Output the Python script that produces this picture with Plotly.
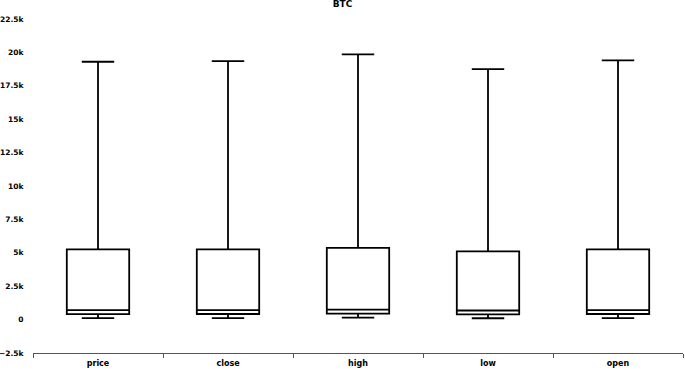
import plotly.graph_objects as go

categories = ["price", "close", "high", "low", "open"]
lower_fence = [110, 110, 150, 100, 110]
q1_vals = [410, 420, 450, 390, 420]
median_vals = [710, 710, 740, 680, 710]
q3_vals = [5260, 5260, 5370, 5100, 5260]
upper_fence = [19300, 19350, 19850, 18750, 19400]
y_tick_vals = [-2500, 0, 2500, 5000, 7500, 10000, 12500, 15000, 17500, 20000, 22500]
y_tick_text = ["−2.5k", "0", "2.5k", "5k", "7.5k", "10k", "12.5k", "15k", "17.5k", "20k", "22.5k"]

fig = go.Figure()
fig.add_trace(go.Box(
    x=categories,
    q1=q1_vals, median=median_vals, q3=q3_vals,
    lowerfence=lower_fence, upperfence=upper_fence,
    fillcolor="white",
    line=dict(color="black", width=1.8),
    width=0.48,
    whiskerwidth=0.52,
    boxpoints=False,
    hoverinfo="skip",
))

font = dict(family="DejaVu Sans", size=8, color="black", weight="bold")
yfont = dict(family="DejaVu Sans", size=7.5, color="black", weight="bold")
fig.update_layout(
    width=685, height=369,
    margin=dict(l=33, r=2, t=19, b=16),
    paper_bgcolor="white", plot_bgcolor="white",
    showlegend=False,
    title=dict(text="BTC", x=0.5, xanchor="center", y=0.997, yanchor="top",
               font=dict(family="DejaVu Sans", size=9, color="black", weight="bold")),
    font=font,
)
fig.update_xaxes(
    type="category", showgrid=False, zeroline=False, automargin=False,
    showline=True, linecolor="#555", linewidth=1,
    ticks="outside", tickson="boundaries", ticklen=4, tickcolor="#555",
    ticklabelstandoff=2,
    tickfont=font, range=[-0.5, 4.5],
)
fig.update_yaxes(
    range=[-2500, 22500], showgrid=False, zeroline=False, showline=False, automargin=False,
    tickvals=y_tick_vals, ticktext=y_tick_text,
    ticks="outside", ticklen=7, tickcolor="rgba(0,0,0,0)",
    tickfont=yfont,
)
fig.write_html("out.html", config={"displayModeBar": False},
               post_script="document.body.style.margin='0';document.body.style.padding='0';")
